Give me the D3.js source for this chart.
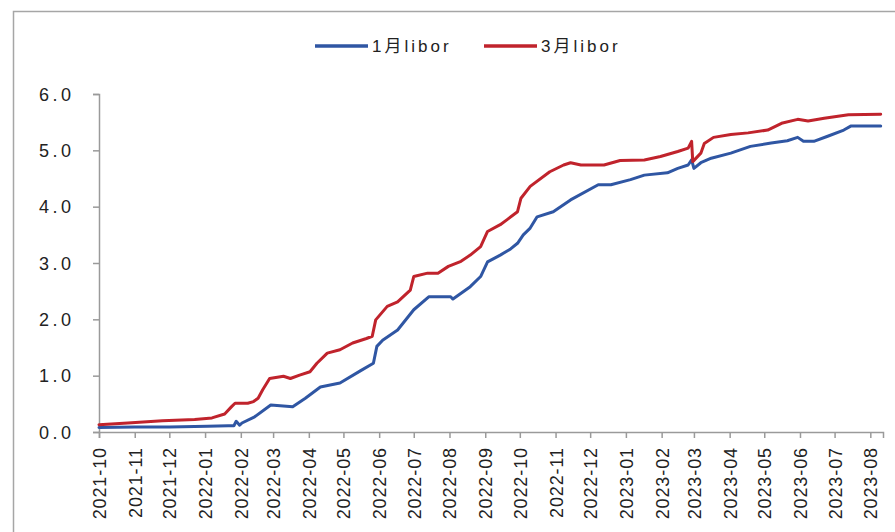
<!DOCTYPE html>
<html>
<head>
<meta charset="utf-8">
<script src="https://cdn.jsdelivr.net/npm/d3@7"></script>
<style>
  html, body { margin: 0; padding: 0; background: #fff; }
  svg { display: block; }
</style>
</head>
<body>
<svg id="chart" width="895" height="532"></svg>
<script>
// ---- data ----
const seriesNames = ["1月libor", "3月libor"];
const yTicks = [0, 1, 2, 3, 4, 5, 6];

const dates1M = ["2021-10-01","2021-11-01","2021-12-01","2022-01-03","2022-01-21","2022-01-26","2022-01-28","2022-01-31","2022-02-02","2022-02-13","2022-02-27","2022-03-18","2022-03-29","2022-04-11","2022-04-28","2022-05-16","2022-05-27","2022-05-30","2022-06-04","2022-06-17","2022-07-01","2022-07-14","2022-08-02","2022-08-04","2022-08-19","2022-08-28","2022-09-03","2022-09-14","2022-09-23","2022-09-29","2022-10-04","2022-10-10","2022-10-16","2022-10-30","2022-11-14","2022-12-08","2022-12-19","2023-01-05","2023-01-17","2023-02-06","2023-02-15","2023-02-24","2023-02-27","2023-03-01","2023-03-07","2023-03-16","2023-04-02","2023-04-19","2023-05-07","2023-05-21","2023-05-30","2023-06-04","2023-06-13","2023-06-25","2023-07-09","2023-07-15","2023-08-10"];
const values1M = [0.08,0.09,0.09,0.10,0.11,0.11,0.19,0.12,0.16,0.27,0.48,0.45,0.60,0.80,0.87,1.09,1.22,1.52,1.63,1.81,2.17,2.40,2.40,2.36,2.58,2.76,3.02,3.14,3.25,3.35,3.50,3.62,3.82,3.91,4.12,4.39,4.39,4.48,4.56,4.60,4.68,4.74,4.83,4.68,4.78,4.86,4.95,5.07,5.13,5.17,5.23,5.16,5.16,5.25,5.36,5.43,5.43];

const dates3M = ["2021-10-01","2021-10-26","2021-11-25","2021-12-23","2022-01-07","2022-01-18","2022-01-24","2022-01-27","2022-02-07","2022-02-12","2022-02-16","2022-02-20","2022-02-26","2022-03-10","2022-03-16","2022-03-24","2022-04-02","2022-04-08","2022-04-17","2022-04-28","2022-05-09","2022-05-21","2022-05-26","2022-05-29","2022-06-08","2022-06-17","2022-06-28","2022-07-01","2022-07-13","2022-07-22","2022-07-31","2022-08-11","2022-08-19","2022-08-28","2022-09-03","2022-09-14","2022-09-20","2022-09-29","2022-10-02","2022-10-10","2022-10-27","2022-11-08","2022-11-14","2022-11-23","2022-12-13","2022-12-27","2023-01-17","2023-01-31","2023-02-15","2023-02-24","2023-02-27","2023-02-28","2023-03-07","2023-03-10","2023-03-18","2023-04-02","2023-04-17","2023-05-04","2023-05-16","2023-05-30","2023-06-08","2023-06-22","2023-07-13","2023-08-10"];
const values3M = [0.13,0.16,0.20,0.22,0.25,0.32,0.45,0.51,0.51,0.54,0.60,0.75,0.95,0.99,0.95,1.01,1.07,1.22,1.40,1.46,1.58,1.66,1.70,1.99,2.23,2.31,2.52,2.76,2.82,2.82,2.94,3.03,3.14,3.29,3.56,3.68,3.77,3.91,4.15,4.36,4.62,4.74,4.78,4.74,4.74,4.82,4.83,4.89,4.98,5.04,5.16,4.80,4.95,5.12,5.23,5.28,5.31,5.36,5.48,5.55,5.52,5.57,5.63,5.64];

const colors = ["#2F56A3", "#C0232C"];

// ---- drawing ----
const parse = d3.timeParse("%Y-%m-%d");
const svg = d3.select("#chart");

// outer frame
svg.append("rect")
  .attr("x", 13.5).attr("y", 11.5)
  .attr("width", 1000).attr("height", 1000)
  .attr("fill", "none").attr("stroke", "#a6a6a6").attr("stroke-width", 1.5);

const x = d3.scaleTime()
  .domain([parse("2021-10-01"), parse("2023-08-12")])
  .range([99, 883]);
const y = d3.scaleLinear().domain([0, 6]).range([432, 94]);

// y axis
const yAxis = svg.append("g")
  .attr("transform", "translate(99,0)")
  .call(d3.axisLeft(y).tickValues(yTicks).tickSize(6).tickFormat(d3.format(".1f")));
yAxis.select(".domain").attr("stroke", "#9a9a9a").attr("stroke-width", 1.5);
yAxis.selectAll(".tick line").attr("stroke", "#9a9a9a").attr("stroke-width", 1.5);
yAxis.selectAll(".tick text")
  .attr("x", -60).attr("text-anchor", "start").attr("dy", "0.35em")
  .style("font-family", "'Liberation Sans', Arial, sans-serif")
  .style("font-size", "18px").style("letter-spacing", "3.5px")
  .attr("fill", "#222");

// x axis
const xTickDates = d3.timeMonth.range(parse("2021-10-01"), parse("2023-08-02"));
const xAxis = svg.append("g")
  .attr("transform", "translate(0,432)")
  .call(d3.axisBottom(x).tickValues(xTickDates).tickSize(6).tickFormat(d3.timeFormat("%Y-%m")));
xAxis.select(".domain").attr("stroke", "#9a9a9a").attr("stroke-width", 1.5);
xAxis.selectAll(".tick line").attr("stroke", "#9a9a9a").attr("stroke-width", 1.5);
xAxis.selectAll(".tick text")
  .attr("transform", "rotate(-90)")
  .attr("x", -15).attr("y", 0).attr("dy", "0.36em")
  .attr("text-anchor", "end")
  .style("font-family", "'Liberation Sans', Arial, sans-serif")
  .style("font-size", "18px").style("letter-spacing", "0.9px")
  .attr("fill", "#222");

// lines
const line = d3.line()
  .x(d => x(d.date)).y(d => y(d.value));

const series = [
  dates1M.map((d, i) => ({ date: parse(d), value: values1M[i] })),
  dates3M.map((d, i) => ({ date: parse(d), value: values3M[i] }))
];

series.forEach((s, i) => {
  svg.append("path")
    .datum(s)
    .attr("d", line)
    .attr("fill", "none")
    .attr("stroke", colors[i])
    .attr("stroke-width", 3)
    .attr("stroke-linejoin", "round")
    .attr("stroke-linecap", "round");
});

// legend
const legendItems = [
  { name: seriesNames[0], color: colors[0], x0: 315 },
  { name: seriesNames[1], color: colors[1], x0: 484 }
];
legendItems.forEach(it => {
  svg.append("line")
    .attr("x1", it.x0).attr("x2", it.x0 + 53)
    .attr("y1", 46).attr("y2", 46)
    .attr("stroke", it.color).attr("stroke-width", 3.5);
  svg.append("text")
    .attr("x", it.x0 + 57).attr("y", 46).attr("dy", "0.36em")
    .style("font-family", "'Liberation Sans', 'Noto Sans CJK SC', sans-serif")
    .style("font-size", "17px").style("letter-spacing", "3px")
    .attr("fill", "#222")
    .text(it.name);
});
</script>
</body>
</html>
